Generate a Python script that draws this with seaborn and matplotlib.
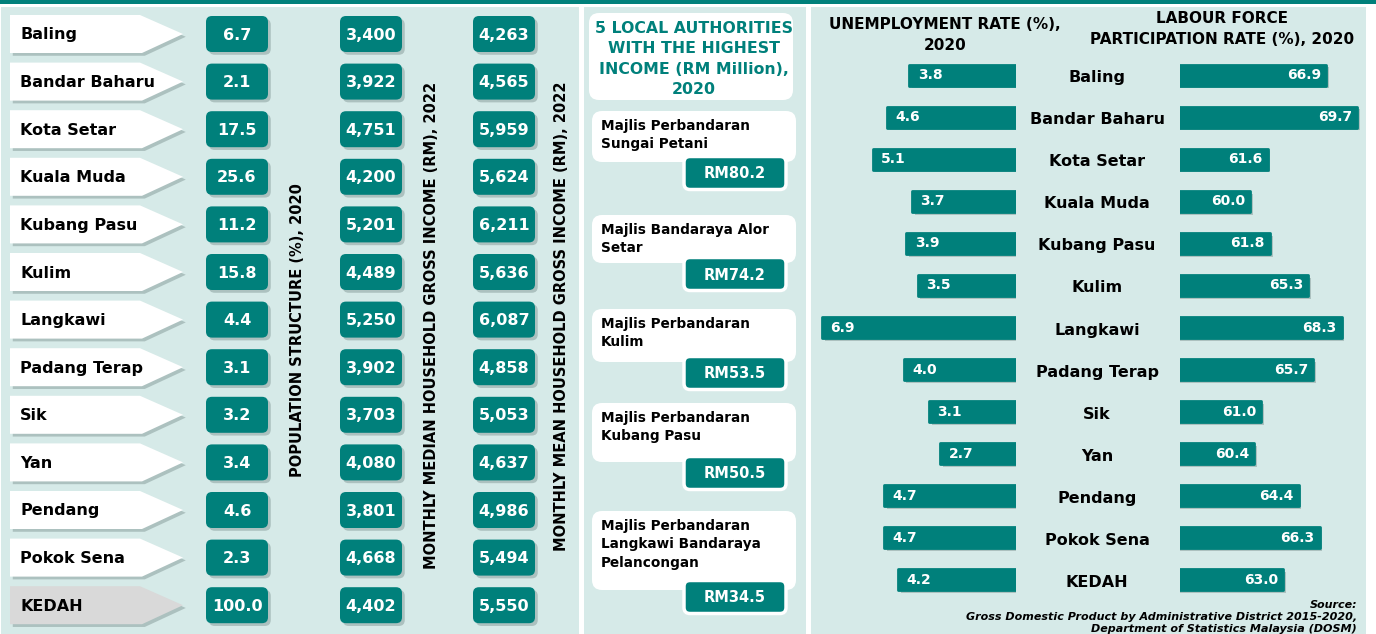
import numpy as np
import pandas as pd
import matplotlib
matplotlib.use("Agg")
import matplotlib.pyplot as plt
import matplotlib.patheffects as pe
import matplotlib.transforms as mtransforms
from matplotlib.patches import FancyBboxPatch, Polygon, Rectangle
import seaborn as sns

# ============================================================
# DATA
# ============================================================
districts = ["Baling", "Bandar Baharu", "Kota Setar", "Kuala Muda", "Kubang Pasu",
             "Kulim", "Langkawi", "Padang Terap", "Sik", "Yan", "Pendang",
             "Pokok Sena", "KEDAH"]
population_pct = [6.7, 2.1, 17.5, 25.6, 11.2, 15.8, 4.4, 3.1, 3.2, 3.4, 4.6, 2.3, 100.0]
median_income = [3400, 3922, 4751, 4200, 5201, 4489, 5250, 3902, 3703, 4080, 3801, 4668, 4402]
mean_income = [4263, 4565, 5959, 5624, 6211, 5636, 6087, 4858, 5053, 4637, 4986, 5494, 5550]

unemployment = [3.8, 4.6, 5.1, 3.7, 3.9, 3.5, 6.9, 4.0, 3.1, 2.7, 4.7, 4.7, 4.2]
lfpr = [66.9, 69.7, 61.6, 60.0, 61.8, 65.3, 68.3, 65.7, 61.0, 60.4, 64.4, 66.3, 63.0]

la_names = ["Majlis Perbandaran\nSungai Petani",
            "Majlis Bandaraya Alor\nSetar",
            "Majlis Perbandaran\nKulim",
            "Majlis Perbandaran\nKubang Pasu",
            "Majlis Perbandaran\nLangkawi Bandaraya\nPelancongan"]
la_income = [80.2, 74.2, 53.5, 50.5, 34.5]

# ============================================================
# STYLE / LAYOUT
# ============================================================
sns.set_theme(style="white")
plt.rcParams["font.family"] = ["DejaVu Sans"]

W, H = 1376, 634
TEAL = "#00807b"
PANEL = "#d6eae8"
SHADOW = [pe.SimplePatchShadow(offset=(2, -2), shadow_rgbFace="#6f8583", alpha=0.4), pe.Normal()]

fig = plt.figure(figsize=(W / 100, H / 100), dpi=100)
bg = fig.add_axes([0, 0, 1, 1])
bg.set_xlim(0, W)
bg.set_ylim(H, 0)
bg.axis("off")

# top band and panels
bg.add_patch(Rectangle((0, 0), W, 4, fc=TEAL, ec="none"))
for x0, x1 in [(1, 579), (584, 806), (811, 1366)]:
    bg.add_patch(Rectangle((x0, 7), x1 - x0, H - 7, fc=PANEL, ec="none"))


def teal_box(ax, cx, cy, w, h, text, fs, edge="none", lw=0, shadow=True):
    p = FancyBboxPatch((cx - w / 2, cy - h / 2), w, h,
                       boxstyle="round,pad=0,rounding_size=6",
                       fc=TEAL, ec=edge, lw=lw, zorder=3,
                       path_effects=SHADOW if shadow else None)
    ax.add_patch(p)
    ax.text(cx, cy + 1, text, ha="center", va="center", color="white",
            fontsize=fs, fontweight="bold", zorder=4)


# ============================================================
# LEFT PANEL: district tags and value boxes
# ============================================================
row0, row_step = 34, 47.6
for i, name in enumerate(districts):
    c = row0 + i * row_step
    face = "#d9d9d9" if name == "KEDAH" else "white"
    bg.add_patch(Polygon([(10, c - 19), (140, c - 19), (183, c), (142, c + 19), (10, c + 19)],
                         closed=True, fc=face, ec="none", zorder=2, path_effects=SHADOW))
    bg.text(20, c + 1, name, ha="left", va="center", fontsize=11.5,
            fontweight="bold", color="black", zorder=3)
    teal_box(bg, 237, c, 62, 36, f"{population_pct[i]:.1f}", 11.5)
    teal_box(bg, 371, c, 62, 36, f"{median_income[i]:,}", 11.5)
    teal_box(bg, 504, c, 62, 36, f"{mean_income[i]:,}", 11.5)

bg.text(297, 330, "POPULATION STRUCTURE (%), 2020", rotation=90, ha="center",
        va="center", fontsize=10.5, fontweight="bold", color="black")
bg.text(431, 325, "MONTHLY MEDIAN HOUSEHOLD GROSS INCOME (RM), 2022", rotation=90,
        ha="center", va="center", fontsize=10.5, fontweight="bold", color="black")
bg.text(561, 316, "MONTHLY MEAN HOUSEHOLD GROSS INCOME (RM), 2022", rotation=90,
        ha="center", va="center", fontsize=10.5, fontweight="bold", color="black")

# ============================================================
# MIDDLE PANEL: local authorities
# ============================================================
bg.add_patch(FancyBboxPatch((589, 13), 204, 87, boxstyle="round,pad=0,rounding_size=10",
                            fc="white", ec="none"))
bg.text(694, 59, "5 LOCAL AUTHORITIES\nWITH THE HIGHEST\nINCOME (RM Million),\n2020",
        ha="center", va="center", fontsize=11.3, fontweight="bold", color=TEAL,
        linespacing=1.45)

box_tops = [111, 215, 309, 403, 511]
box_heights = [51, 48, 53, 59, 79]
for top, hgt, name, val in zip(box_tops, box_heights, la_names, la_income):
    bg.add_patch(FancyBboxPatch((592, top), 204, hgt, boxstyle="round,pad=0,rounding_size=10",
                                fc="white", ec="none", zorder=2))
    bg.text(601, top + 8, name, ha="left", va="top", fontsize=9.8, fontweight="bold",
            color="black", linespacing=1.4, zorder=3)
    vy = top + hgt + 11 if hgt < 70 else top + hgt + 7
    teal_box(bg, 735, vy, 102, 33, f"RM{val:.1f}", 10.5, edge="white", lw=2.5, shadow=False)

# ============================================================
# RIGHT PANEL: unemployment and labour force participation bars
# ============================================================
df = pd.DataFrame({"district": districts, "unemp": unemployment, "lfpr": lfpr})
rows_top, rows_bot = 54, 601
n = len(districts)

ax_u = fig.add_axes([812 / W, 1 - rows_bot / H, (1016 - 812) / W, (rows_bot - rows_top) / H])
sns.barplot(data=df, x="unemp", y="district", ax=ax_u, color=TEAL, saturation=1,
            width=0.5, orient="h")
ax_u.set_xlim(7.26, 0)
ax_u.set_ylim(n - 0.5, -0.5)
ax_u.axis("off")

ax_l = fig.add_axes([1180 / W, 1 - rows_bot / H, (1370 - 1180) / W, (rows_bot - rows_top) / H])
sns.barplot(data=df, x="lfpr", y="district", ax=ax_l, color=TEAL, saturation=1,
            width=0.5, orient="h")
ax_l.set_xlim(53.65, 53.65 + 190 / 11.03)
ax_l.set_ylim(n - 0.5, -0.5)
ax_l.axis("off")

for ax in (ax_u, ax_l):
    for p in ax.patches:
        p.set_edgecolor(TEAL)
        p.set_linewidth(2)
        p.set_joinstyle("round")
        p.set_path_effects(SHADOW)

for i, v in enumerate(unemployment):
    ax_u.text(v - 0.3, i, f"{v:.1f}", ha="left", va="center", color="white",
              fontsize=10, fontweight="bold")
for i, v in enumerate(lfpr):
    ax_l.text(v - 0.45, i, f"{v:.1f}", ha="right", va="center", color="white",
              fontsize=10, fontweight="bold")

trans = mtransforms.blended_transform_factory(bg.transData, ax_u.transData)
for i, name in enumerate(districts):
    bg.text(1097, i + 0.06, name, transform=trans, ha="center", va="center",
            fontsize=11.5, fontweight="bold", color="black")

bg.text(945, 35, "UNEMPLOYMENT RATE (%),\n2020", ha="center", va="center",
        fontsize=11, fontweight="bold", color="black", linespacing=1.55)
bg.text(1222, 29, "LABOUR FORCE\nPARTICIPATION RATE (%), 2020", ha="center", va="center",
        fontsize=11, fontweight="bold", color="black", linespacing=1.55)

bg.text(1357, 617, "Source:\nGross Domestic Product by Administrative District 2015-2020,\n"
        "Department of Statistics Malaysia (DOSM)", ha="right", va="center",
        fontsize=8, fontweight="bold", fontstyle="italic", color="black",
        linespacing=1.3)

fig.savefig("out.png", dpi=100)
